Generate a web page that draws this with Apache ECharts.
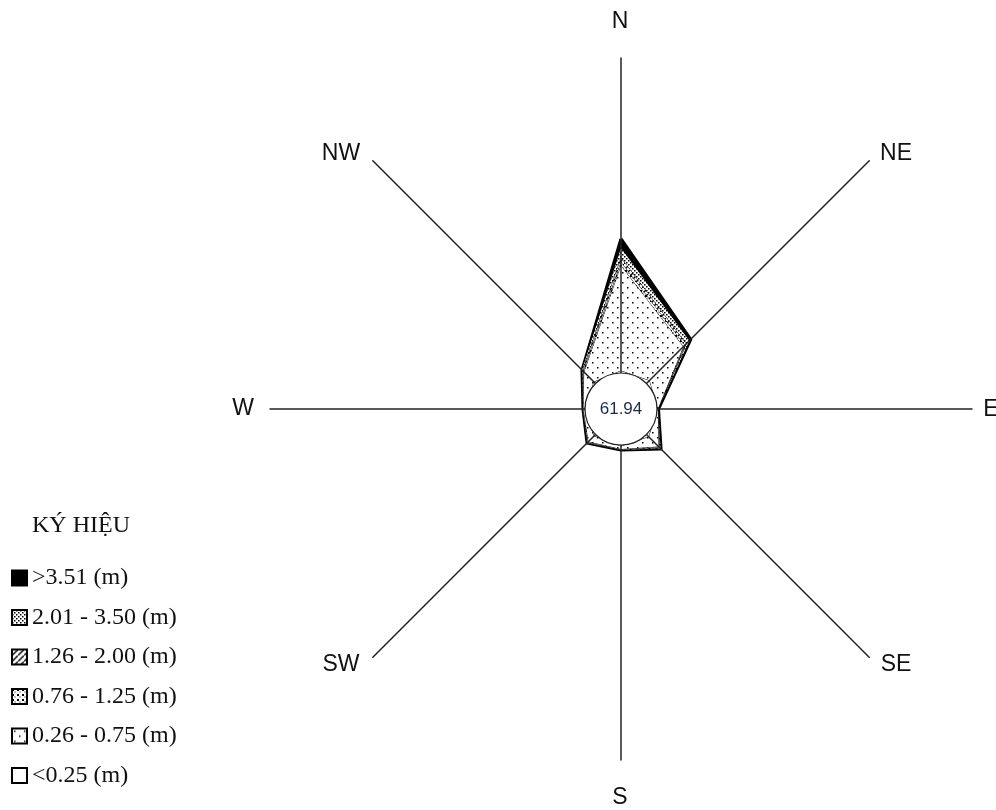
<!DOCTYPE html>
<html>
<head>
<meta charset="utf-8">
<script src="https://cdn.jsdelivr.net/npm/echarts@6/dist/echarts.min.js"></script>
<style>
  html, body { margin: 0; padding: 0; background: #fff; }
  #chart { width: 996px; height: 810px; }
</style>
</head>
<body>
<div id="chart"></div>
<script>
// huong song, theo chieu kim dong ho tu N
const directions = ['N', 'NE', 'E', 'SE', 'S', 'SW', 'W', 'NW'];
const classNames = ['<0.25 (m)', '0.26 - 0.75 (m)', '0.76 - 1.25 (m)', '1.26 - 2.00 (m)', '2.01 - 3.50 (m)', '>3.51 (m)'];

// tan suat (%) moi cap do cao song
const h025 = [0.30, 0.59, 0.04, 0.45, 0.15, 0.30, 0.07, 0.30];
const h075 = [15.61, 7.14, 0.07, 2.08, 0.45, 1.19, 0.15, 2.08];
const h125 = [0.52, 0.30, 0.03, 0.15, 0.07, 0.15, 0.07, 0.15];
const h200 = [0.67, 0.30, 0.00, 0.15, 0.07, 0.07, 0.00, 0.15];
const h350 = [1.49, 0.67, 0.03, 0.15, 0.00, 0.07, 0.00, 0.15];
const h351 = [1.34, 0.30, 0.04, 0.07, 0.00, 0.00, 0.00, 0.00];
const calm = 61.94;

const CX = 621, CY = 409, R = 351;
const AX_MIN = -5.35, AX_MAX = 46.83;

function pattern(size, draw, bg) {
    let c = document.createElement('canvas');
    c.width = size; c.height = size;
    let ctx = c.getContext('2d');
    ctx.fillStyle = bg || '#fff';
    ctx.fillRect(0, 0, size, size);
    ctx.fillStyle = '#000';
    ctx.strokeStyle = '#000';
    draw(ctx);
    return { image: c, repeat: 'repeat' };
}

const fills = [
    '#fff',
    pattern(10, function (ctx) { ctx.fillRect(2, 2, 1.5, 1.5); ctx.fillRect(7, 7, 1.5, 1.5); }),
    pattern(5, function (ctx) { ctx.fillRect(0, 0, 2, 2); ctx.fillRect(2.5, 2.5, 1, 1); }),
    pattern(6, function (ctx) { ctx.lineWidth = 1.4; ctx.beginPath(); ctx.moveTo(0, 6); ctx.lineTo(6, 0); ctx.stroke(); }),
    pattern(4, function (ctx) { ctx.fillRect(0, 0, 1.5, 1.5); ctx.fillRect(2, 2, 1.5, 1.5); }),
    '#000'
];

const classes = [h025, h075, h125, h200, h350, h351];
// radar dat chi tieu nguoc chieu kim dong ho
const radarOrder = [0, 7, 6, 5, 4, 3, 2, 1];

let cum = [];
for (let k = 0; k < classes.length; k++) {
    let row = [];
    for (let d = 0; d < directions.length; d++) {
        row.push(+(classes[k][d] + (k > 0 ? cum[k - 1][d] : 0)).toFixed(2));
    }
    cum.push(row);
}

let radarData = [];
for (let k = classes.length - 1; k >= 0; k--) {
    radarData.push({
        name: classNames[k],
        value: radarOrder.map(function (i) { return cum[k][i]; }),
        symbol: 'none',
        itemStyle: { color: fills[k] },
        lineStyle: { color: '#000', width: k == classes.length - 1 ? 3.2 : 1 },
        areaStyle: { color: fills[k], opacity: 1 }
    });
}

// vi tri chu huong so voi tam
const labelPos = [[-1, -387], [275, -255], [370, 1], [275, 256], [-1, 389], [-280, 256], [-378, 0], [-280, -255]];

let chart = echarts.init(document.getElementById('chart'));
chart.setOption({
    animation: false,
    title: {
        text: 'KÝ HIỆU',
        left: 32,
        top: 514,
        padding: 0,
        textStyle: { fontFamily: 'Liberation Serif', fontSize: 24, fontWeight: 'normal', color: '#111' }
    },
    legend: {
        orient: 'vertical',
        left: 11,
        top: 566,
        padding: 0,
        itemGap: 15.5,
        itemWidth: 15,
        itemHeight: 15,
        icon: 'rect',
        selectedMode: false,
        textStyle: { fontFamily: 'Liberation Serif', fontSize: 24, color: '#111' },
        data: classNames.slice().reverse().map(function (n, i) {
            let k = classes.length - 1 - i;
            return { name: n, itemStyle: { color: fills[k], borderColor: '#000', borderWidth: 2 } };
        })
    },
    radar: {
        center: [CX, CY],
        radius: R,
        startAngle: 90,
        shape: 'polygon',
        z: 5,
        indicator: radarOrder.map(function (i) { return { name: directions[i], min: AX_MIN, max: AX_MAX }; }),
        axisName: { show: false },
        splitLine: { show: false },
        splitArea: { show: false },
        axisTick: { show: false },
        axisLabel: { show: false },
        axisLine: { lineStyle: { color: '#222', width: 1.5 } }
    },
    graphic: directions.map(function (d, i) {
        return {
            type: 'text',
            x: CX + labelPos[i][0],
            y: CY + labelPos[i][1],
            style: {
                text: d, fill: '#111', font: '23px "Liberation Sans"',
                align: 'center', verticalAlign: 'middle'
            }
        };
    }),
    series: [
        {
            type: 'radar',
            z: 2,
            silent: true,
            data: radarData
        },
        {
            type: 'pie',
            z: 10,
            silent: true,
            center: [CX, CY],
            radius: [0, 36],
            itemStyle: { color: '#fff', borderColor: '#222', borderWidth: 1.2 },
            label: {
                position: 'center', formatter: '{c}',
                fontFamily: 'Liberation Sans', fontSize: 17, color: '#1b2b4b'
            },
            labelLine: { show: false },
            data: [{ name: 'calm', value: calm }]
        }
    ]
});
</script>
</body>
</html>
